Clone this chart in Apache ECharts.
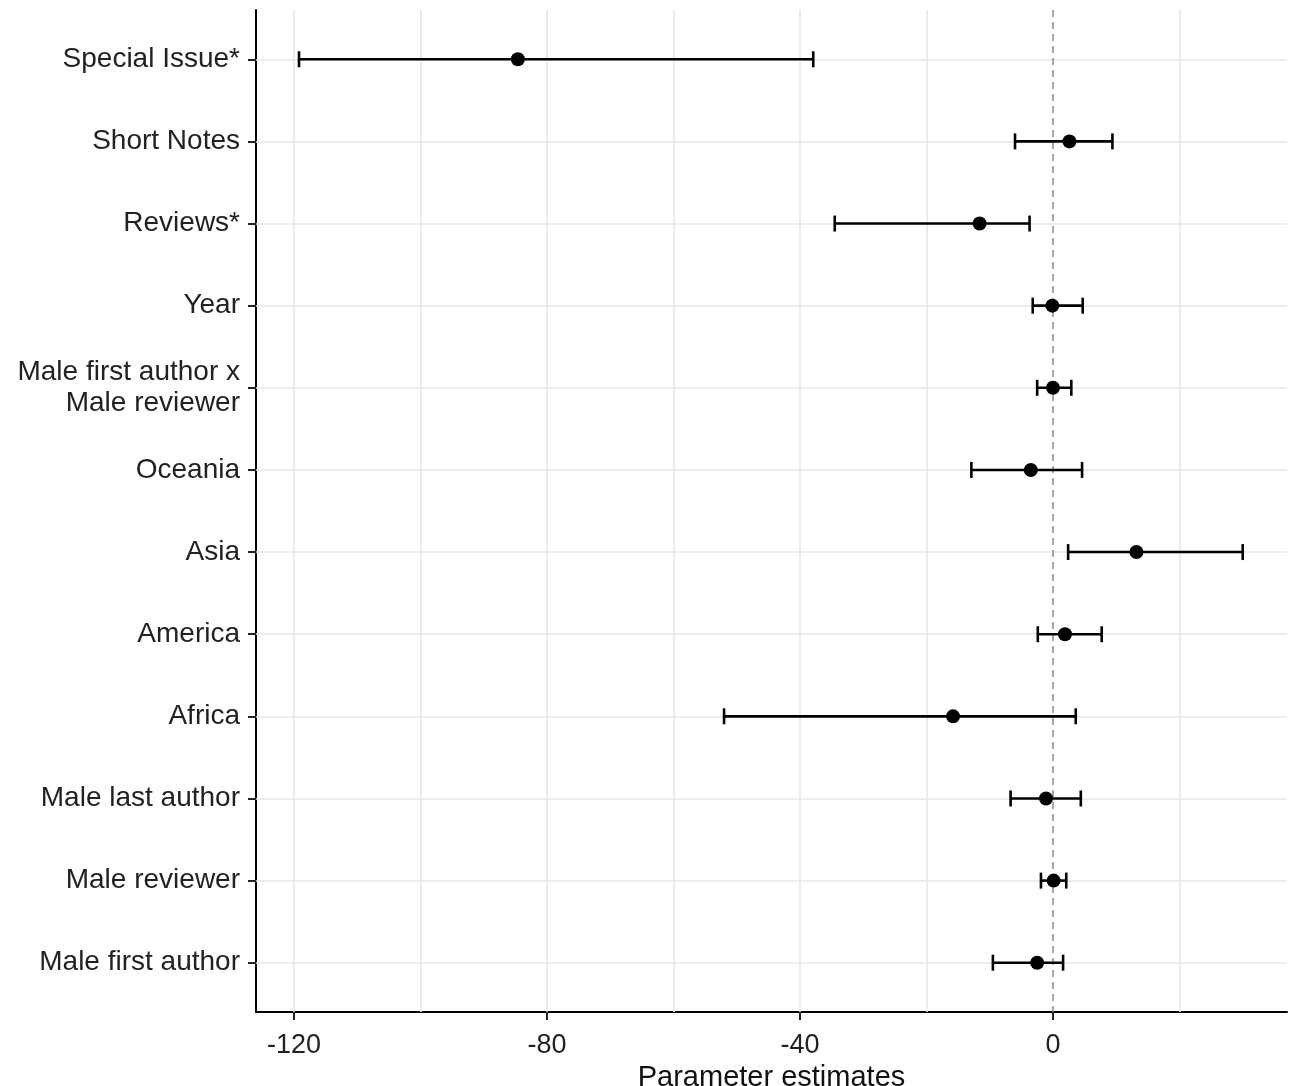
<!DOCTYPE html>
<html>
<head>
<meta charset="utf-8">
<title>Parameter estimates</title>
<script src="https://cdn.jsdelivr.net/npm/echarts@6.0.0/dist/echarts.min.js"></script>
<style>
  html, body { margin: 0; padding: 0; background: #fff; }
  #chart { width: 1295px; height: 1086px; }
</style>
</head>
<body>
<div id="chart"></div>
<script>
// categories, top to bottom
var categories = ['Special Issue*', 'Short Notes', 'Reviews*', 'Year',
    'Male first author x\nMale reviewer', 'Oceania', 'Asia', 'America',
    'Africa', 'Male last author', 'Male reviewer', 'Male first author'];
var estimates = [-84.6, 2.6, -11.6, -0.1, 0.0, -3.5, 13.2, 1.9, -15.8, -1.1, 0.1, -2.5];
var lower = [-119.2, -6.0, -34.5, -3.2, -2.5, -12.9, 2.4, -2.4, -52.0, -6.7, -1.9, -9.5];
var upper = [-37.9, 9.4, -3.7, 4.7, 2.9, 4.6, 30.0, 7.7, 3.6, 4.4, 2.1, 1.6];
var xTicks = [-120, -80, -40, 0];
var xGridLines = [-120, -100, -80, -60, -40, -20, 20];

(function() {
    'use strict';
    var dom = document.getElementById('chart');
    var myChart = echarts.init(dom);
    var font = '"Liberation Sans", Arial, sans-serif';

    var yIdx = categories.map(function(c, i) { return i; });
    var pointData = estimates.map(function(v, i) { return [v, i]; });
    var barData = estimates.map(function(v, i) { return [i, lower[i], upper[i]]; });

    // grid lines + zero reference line drawn through the axes' scales
    var gridLines = [];
    xGridLines.forEach(function(v) {
        gridLines.push({ xAxis: v, lineStyle: { color: '#e6e6e6', width: 1.6, type: 'solid' } });
    });
    yIdx.forEach(function(i) {
        gridLines.push({ yAxis: i, lineStyle: { color: '#e6e6e6', width: 1.6, type: 'solid' } });
    });
    gridLines.push({ xAxis: 0, lineStyle: { color: '#8a8a8a', width: 1.5, type: [7, 5] } });

    var option = {
        animation: false,
        backgroundColor: '#fff',
        textStyle: { fontFamily: font },
        grid: { left: 256, right: 8, top: 10, bottom: 74, containLabel: false, outerBoundsMode: 'none' },
        xAxis: {
            type: 'value',
            min: -126,
            max: 37,
            name: 'Parameter estimates',
            nameLocation: 'middle',
            nameGap: 44,
            nameTextStyle: { fontSize: 29, color: '#111', fontFamily: font },
            axisLine: { show: true, onZero: false, lineStyle: { color: '#000', width: 2 } },
            axisTick: { show: true, length: 8, customValues: xTicks, lineStyle: { color: '#222', width: 2 } },
            axisLabel: { customValues: xTicks, margin: 20, fontSize: 27, color: '#222', fontFamily: font },
            splitLine: { show: false }
        },
        yAxis: {
            type: 'value',
            inverse: true,
            min: -0.6,
            max: 11.6,
            axisLine: { show: true, onZero: false, lineStyle: { color: '#000', width: 2 } },
            axisTick: { show: true, length: 8, customValues: yIdx, lineStyle: { color: '#222', width: 2 } },
            axisLabel: {
                customValues: yIdx,
                margin: 16,
                fontSize: 28,
                lineHeight: 31,
                color: '#222',
                fontFamily: font,
                align: 'right',
                formatter: function(v) { return categories[Math.round(v)]; }
            },
            splitLine: { show: false }
        },
        series: [
            {
                type: 'custom',
                z: 3,
                silent: true,
                data: barData,
                encode: { x: [1, 2], y: 0 },
                renderItem: function(params, api) {
                    var y = api.value(0);
                    var p1 = api.coord([api.value(1), y]);
                    var p2 = api.coord([api.value(2), y]);
                    var h = 8;
                    var st = { stroke: '#000', lineWidth: 2.6 };
                    return {
                        type: 'group',
                        children: [
                            { type: 'line', shape: { x1: p1[0], y1: p1[1], x2: p2[0], y2: p2[1] }, style: st },
                            { type: 'line', shape: { x1: p1[0], y1: p1[1] - h, x2: p1[0], y2: p1[1] + h }, style: st },
                            { type: 'line', shape: { x1: p2[0], y1: p2[1] - h, x2: p2[0], y2: p2[1] + h }, style: st }
                        ]
                    };
                }
            },
            {
                type: 'scatter',
                z: 4,
                silent: true,
                symbol: 'circle',
                symbolSize: 14,
                itemStyle: { color: '#000', opacity: 1 },
                data: pointData,
                markLine: {
                    z: 1,
                    silent: true,
                    symbol: ['none', 'none'],
                    label: { show: false },
                    data: gridLines
                }
            }
        ]
    };

    if (option && typeof option === 'object') {
        myChart.setOption(option);
    }
})();
</script>
</body>
</html>
